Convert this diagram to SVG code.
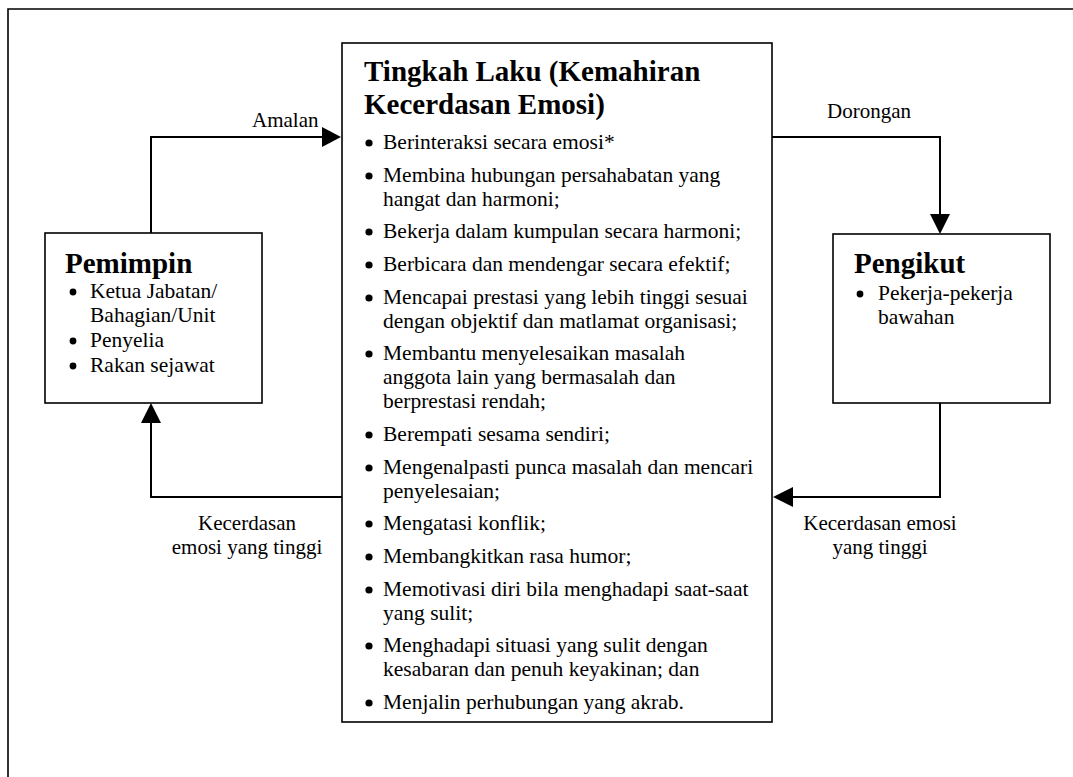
<svg xmlns="http://www.w3.org/2000/svg" width="1073" height="777" viewBox="0 0 1073 777">
<defs>
<style>
.frame{fill:none;stroke:#000;stroke-width:1.6}
.box{fill:#fff;stroke:#000;stroke-width:1.6}
.con{fill:none;stroke:#000;stroke-width:2}
.ah{fill:#000}
.t{font-family:"Liberation Serif","Times New Roman",serif;font-size:21.5px;fill:#000}
.h{font-family:"Liberation Serif","Times New Roman",serif;font-size:29px;font-weight:bold;fill:#000}
.lbl{font-family:"Liberation Serif","Times New Roman",serif;font-size:21px;fill:#000}
.b{fill:#000}
</style>
</defs>
<rect width="1073" height="777" fill="#fff"/>
<path class="frame" d="M8,777 V9 H1073"/>

<g id="connectors">
<path class="con" d="M151,233 V137 H324"/>
<polygon class="ah" points="341,137 322,127 322,147"/>
<path class="con" d="M772,137 H940 V216"/>
<polygon class="ah" points="940,234 930,214 950,214"/>
<path class="con" d="M940,403 V497 H790"/>
<polygon class="ah" points="773,497 793,487 793,507"/>
<path class="con" d="M342,497 H151 V420"/>
<polygon class="ah" points="151,403 141,423 161,423"/>
<text class="lbl" x="252" y="127">Amalan</text>
<text class="lbl" x="827" y="118">Dorongan</text>
<text class="lbl" x="247" y="530" text-anchor="middle">Kecerdasan</text>
<text class="lbl" x="247" y="554" text-anchor="middle">emosi yang tinggi</text>
<text class="lbl" x="880" y="530" text-anchor="middle">Kecerdasan emosi</text>
<text class="lbl" x="880" y="554" text-anchor="middle">yang tinggi</text>
</g>

<g id="pemimpin">
<rect class="box" x="45" y="233" width="217" height="170"/>
<text class="h" x="65" y="273">Pemimpin</text>
<circle class="b" cx="73" cy="292" r="3.4"/>
<text class="t" x="90" y="298">Ketua Jabatan/</text>
<text class="t" x="90" y="322">Bahagian/Unit</text>
<circle class="b" cx="73" cy="341" r="3.4"/>
<text class="t" x="90" y="347">Penyelia</text>
<circle class="b" cx="73" cy="366" r="3.4"/>
<text class="t" x="90" y="372">Rakan sejawat</text>
</g>

<g id="pengikut">
<rect class="box" x="833" y="234" width="217" height="169"/>
<text class="h" x="854" y="273">Pengikut</text>
<circle class="b" cx="860" cy="294" r="3.4"/>
<text class="t" x="878" y="300">Pekerja-pekerja</text>
<text class="t" x="878" y="324">bawahan</text>
</g>

<g id="tingkah-laku">
<rect class="box" x="342" y="43" width="430" height="679"/>
<text class="h" x="364" y="81">Tingkah Laku (Kemahiran</text>
<text class="h" x="364" y="114">Kecerdasan Emosi)</text>
<g class="b">
<circle cx="369" cy="143" r="3.6"/>
<circle cx="369" cy="176" r="3.6"/>
<circle cx="369" cy="232" r="3.6"/>
<circle cx="369" cy="265" r="3.6"/>
<circle cx="369" cy="298" r="3.6"/>
<circle cx="369" cy="354" r="3.6"/>
<circle cx="369" cy="435" r="3.6"/>
<circle cx="369" cy="468" r="3.6"/>
<circle cx="369" cy="524" r="3.6"/>
<circle cx="369" cy="557" r="3.6"/>
<circle cx="369" cy="590" r="3.6"/>
<circle cx="369" cy="646" r="3.6"/>
<circle cx="369" cy="703" r="3.6"/>
</g>
<text class="t" x="383" y="149">Berinteraksi secara emosi*</text>
<text class="t" x="383" y="182">Membina hubungan persahabatan yang</text>
<text class="t" x="383" y="206">hangat dan harmoni;</text>
<text class="t" x="383" y="238">Bekerja dalam kumpulan secara harmoni;</text>
<text class="t" x="383" y="271">Berbicara dan mendengar secara efektif;</text>
<text class="t" x="383" y="304">Mencapai prestasi yang lebih tinggi sesuai</text>
<text class="t" x="383" y="328">dengan objektif dan matlamat organisasi;</text>
<text class="t" x="383" y="360">Membantu menyelesaikan masalah</text>
<text class="t" x="383" y="384">anggota lain yang bermasalah dan</text>
<text class="t" x="383" y="408">berprestasi rendah;</text>
<text class="t" x="383" y="441">Berempati sesama sendiri;</text>
<text class="t" x="383" y="474">Mengenalpasti punca masalah dan mencari</text>
<text class="t" x="383" y="498">penyelesaian;</text>
<text class="t" x="383" y="530">Mengatasi konflik;</text>
<text class="t" x="383" y="563">Membangkitkan rasa humor;</text>
<text class="t" x="383" y="596">Memotivasi diri bila menghadapi saat-saat</text>
<text class="t" x="383" y="620">yang sulit;</text>
<text class="t" x="383" y="652">Menghadapi situasi yang sulit dengan</text>
<text class="t" x="383" y="676">kesabaran dan penuh keyakinan; dan</text>
<text class="t" x="383" y="709">Menjalin perhubungan yang akrab.</text>
</g>
</svg>
